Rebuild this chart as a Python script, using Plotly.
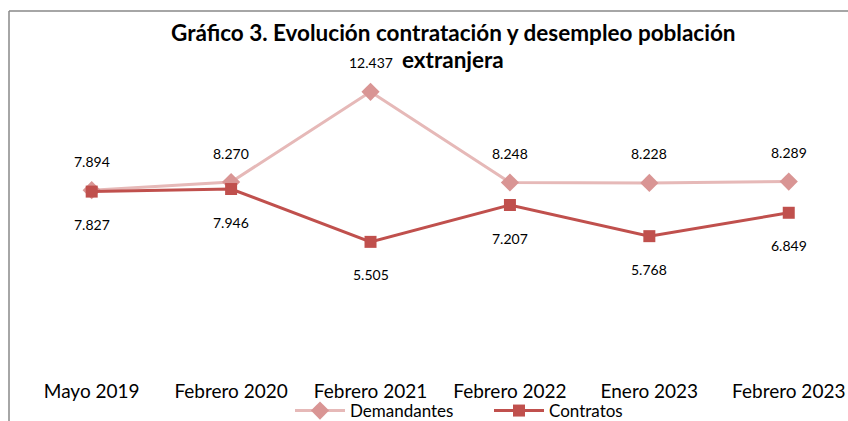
import plotly.graph_objects as go

categories = ["Mayo 2019", "Febrero 2020", "Febrero 2021", "Febrero 2022", "Enero 2023", "Febrero 2023"]
demandantes = [7894, 8270, 12437, 8248, 8228, 8289]
contratos = [7827, 7946, 5505, 7207, 5768, 6849]

def fmt(v):
    return f"{v:,}".replace(",", ".")

FONT = "Lato"
L, T, B, H, W = 22, 58, 60, 421, 848
PW = W - L
PH = H - T - B

def px_x(x):
    return (x - L) / PW

def px_y(y):
    return (H - B - y) / PH

fig = go.Figure()
fig.add_trace(go.Scatter(
    x=categories, y=demandantes, name="Demandantes", mode="lines+markers",
    line=dict(color="#E6B9B8", width=3),
    marker=dict(symbol="diamond", size=14, color="#D99594"),
))
fig.add_trace(go.Scatter(
    x=categories, y=contratos, name="Contratos", mode="lines+markers",
    line=dict(color="#C0504D", width=3),
    marker=dict(symbol="square", size=12, color="#C0504D"),
))

annotations = []
for c, v in zip(categories, demandantes):
    annotations.append(dict(x=c, y=v, text=fmt(v), showarrow=False, yshift=29,
                            font=dict(family=FONT, size=14, color="#000")))
for c, v in zip(categories, contratos):
    annotations.append(dict(x=c, y=v, text=fmt(v), showarrow=False, yshift=-33,
                            font=dict(family=FONT, size=14, color="#000")))
annotations.append(dict(xref="paper", yref="paper", x=px_x(453), y=px_y(32), yanchor="middle",
                        text="<b>Gráfico 3. Evolución contratación y desempleo población</b>",
                        showarrow=False, font=dict(family=FONT, size=22.5, color="#000")))
annotations.append(dict(xref="paper", yref="paper", x=px_x(453), y=px_y(60), yanchor="middle",
                        text="<b>extranjera</b>",
                        showarrow=False, font=dict(family=FONT, size=22.5, color="#000")))

fig.update_layout(
    width=W, height=H,
    margin=dict(l=L, r=0, t=T, b=B, autoexpand=False),
    paper_bgcolor="white", plot_bgcolor="white",
    showlegend=True,
    legend=dict(orientation="h", xref="container", yref="container",
                x=290 / W, xanchor="left", y=(H - 411) / H,
                yanchor="middle", font=dict(family=FONT, size=17, color="#000"),
                bgcolor="rgba(0,0,0,0)", itemwidth=50,
                entrywidth=134, entrywidthmode="pixels"),
    xaxis=dict(range=[-0.5, 5.425], showgrid=False, showline=False, zeroline=False,
               ticks="", ticklabelstandoff=17, automargin=False,
               tickfont=dict(family=FONT, size=19, color="#000")),
    yaxis=dict(range=[0, 14000], visible=False, showgrid=False, automargin=False),
    annotations=annotations,
    shapes=[
        dict(type="line", xref="paper", yref="paper", x0=px_x(9), x1=px_x(9),
             y0=px_y(11), y1=px_y(425), line=dict(color="#898989", width=1.5)),
        dict(type="line", xref="paper", yref="paper", x0=px_x(9), x1=1.05,
             y0=px_y(11), y1=px_y(11), line=dict(color="#898989", width=1.5)),
    ],
)
fig.write_html("out.html", config={"displayModeBar": False},
               post_script="document.body.style.margin='0';")
